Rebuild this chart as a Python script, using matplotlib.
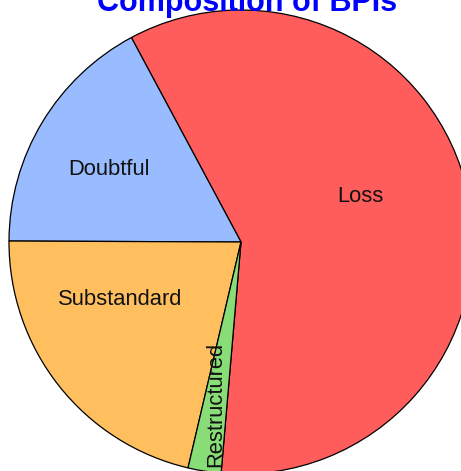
import numpy as np
import matplotlib
matplotlib.use("Agg")
import matplotlib.pyplot as plt

categories = ["Loss", "Doubtful", "Substandard", "Restructured"]
shares = [59.2, 17.1, 21.4, 2.3]
colors = ["#FF5C5C", "#99BBFF", "#FFBF5F", "#88DD77"]
title = "Composition of BPIs"

# label placement (angle in deg, radius fraction), rotation
label_pos = {"Loss": (22.0, 0.553, 0),
             "Doubtful": (150.3, 0.653, 0),
             "Substandard": (204.5, 0.571, 0),
             "Restructured": (261.05, 0.707, 90)}

W, H = 461, 471
fig = plt.figure(figsize=(W / 100, H / 100), dpi=100)
cx, cy, R = 241, 242, 232
ax = fig.add_axes([(cx - R) / W, (H - cy - R) / H, 2 * R / W, 2 * R / H])

wedges, _ = ax.pie(shares, colors=colors, startangle=265.08, counterclock=True,
                   radius=1, wedgeprops=dict(edgecolor="black", linewidth=0.9))
for w in wedges:
    w.set_clip_on(False)
ax.set_aspect("auto")
ax.set_xlim(-1, 1)
ax.set_ylim(-1, 1)
ax.axis("off")

for cat in categories:
    ang, r, rot = label_pos[cat]
    a = np.deg2rad(ang)
    ax.text(r * np.cos(a), r * np.sin(a), cat, ha="center",
            va="center_baseline" if rot == 0 else "center",
            rotation=rot, fontsize=15.8, family="Liberation Sans", color="#111111")

fig.text(247 / W, 1 - 11 / H, title, ha="center", va="baseline", fontsize=22,
         fontweight="bold", family="Liberation Sans", color="#0000FF")

fig.savefig("out.png", dpi=100)
